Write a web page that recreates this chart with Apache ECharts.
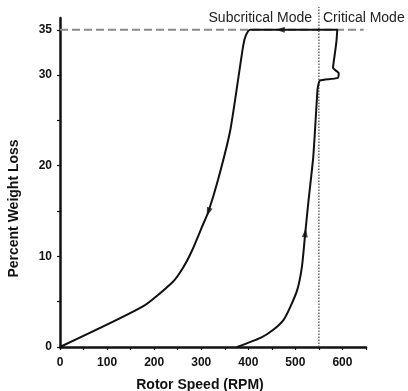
<!DOCTYPE html>
<html>
<head>
<meta charset="utf-8">
<script src="https://cdn.jsdelivr.net/npm/echarts@6/dist/echarts.min.js"></script>
<style>
  html, body { margin: 0; padding: 0; background: #fff; }
  #chart { width: 408px; height: 391px; }
</style>
</head>
<body>
<div id="chart"></div>
<script>
// Hysteresis loop: rises on the right branch, runs left along 35 %, falls on the left branch
const loopRpm = [376, 426, 453, 475, 489, 504, 514, 521, 528, 538, 547, 549, 552, 590, 592, 580, 581, 587, 589,
  404, 395, 389, 362, 336, 315, 302, 281, 262, 240, 177, 0];
const loopLoss = [0, 1.0, 1.9, 3.0, 4.4, 6.3, 8.9, 12.6, 16.2, 21, 28.4, 29.0, 29.4, 29.7, 30.2, 30.8, 31.3, 33.6, 35,
  35, 34.4, 33.2, 24, 18.5, 14.9, 13.3, 10.7, 8.8, 7.2, 4.5, 0];

// direction arrows on the loop
const arrowRpm = [521, 468, 315];
const arrowLoss = [12.6, 35, 14.9];
const arrowAngle = [-6, 90, 161];

// reference lines
const maxLossRpm = [0, 645];
const maxLossLevel = [35, 35];
const criticalRpm = [550, 550];
const criticalLoss = [0, 37.5];

const xLabels = [0, 100, 200, 300, 400, 500, 600];
const yLabels = [0, 10, 20, 30, 35];
const yTicks = [0, 5, 10, 15, 20, 25, 30, 35];

const font = "'Liberation Sans', Arial, sans-serif";

const chart = echarts.init(document.getElementById('chart'), null, { renderer: 'canvas' });

chart.setOption({
  backgroundColor: '#fff',
  animation: false,
  grid: { left: 60, right: 42, top: 18, bottom: 44, outerBoundsMode: 'none' },
  xAxis: {
    type: 'value',
    min: 0,
    max: 650,
    interval: 50,
    name: 'Rotor Speed (RPM)',
    nameLocation: 'middle',
    nameGap: 31,
    nameTextStyle: { color: '#111', fontFamily: font, fontWeight: 'bold', fontSize: 14, padding: [0, 26, 0, 0] },
    axisLine: { onZero: false, lineStyle: { color: '#111', width: 2.5 } },
    axisTick: { show: true, inside: false, length: 3, lineStyle: { color: '#111', width: 1.2 } },
    axisLabel: {
      customValues: xLabels,
      color: '#111', fontFamily: font, fontWeight: 'bold', fontSize: 12, margin: 10
    },
    splitLine: { show: false }
  },
  yAxis: {
    type: 'value',
    min: 0,
    max: 36.3,
    name: 'Percent Weight Loss',
    nameLocation: 'middle',
    nameGap: 39,
    nameTextStyle: { color: '#111', fontFamily: font, fontWeight: 'bold', fontSize: 14, padding: [0, 52, 0, 0] },
    axisLine: { onZero: false, lineStyle: { color: '#111', width: 2.5 } },
    axisTick: { show: true, customValues: yTicks, length: 3, lineStyle: { color: '#111', width: 1.2 } },
    axisLabel: {
      customValues: yLabels,
      color: '#111', fontFamily: font, fontWeight: 'bold', fontSize: 12, margin: 8
    },
    splitLine: { show: false }
  },
  series: [
    {
      name: 'Max loss',
      type: 'line',
      data: maxLossRpm.map((x, i) => [x, maxLossLevel[i]]),
      symbol: 'none',
      silent: true,
      z: 1,
      lineStyle: { color: '#8a8a8a', width: 2, type: [8, 4] }
    },
    {
      name: 'Critical speed',
      type: 'line',
      data: criticalRpm.map((x, i) => [x, criticalLoss[i]]),
      symbol: 'none',
      silent: true,
      clip: false,
      z: 1,
      lineStyle: { color: '#444', width: 1.2, type: [1.5, 1.5] }
    },
    {
      name: 'Weight loss',
      type: 'line',
      data: loopRpm.map((x, i) => [x, loopLoss[i]]),
      symbol: 'none',
      smooth: 0.2,
      z: 3,
      lineStyle: { color: '#111', width: 2 }
    },
    {
      name: 'Arrows',
      type: 'scatter',
      data: arrowRpm.map((x, i) => ({ value: [x, arrowLoss[i]], symbolRotate: arrowAngle[i] })),
      symbol: 'triangle',
      symbolSize: [6, 9],
      z: 4,
      itemStyle: { color: '#111' }
    }
  ],
  graphic: [
    {
      type: 'text',
      right: 96,
      top: 11,
      style: { text: 'Subcritical Mode', fill: '#222', font: '14px ' + font }
    },
    {
      type: 'text',
      left: 323,
      top: 11,
      style: { text: 'Critical Mode', fill: '#222', font: '14px ' + font }
    }
  ]
});
</script>
</body>
</html>
